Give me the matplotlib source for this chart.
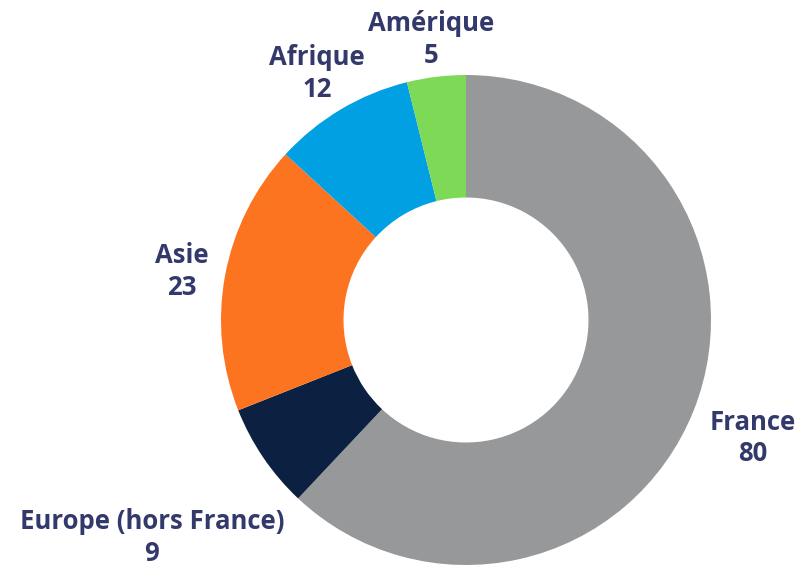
import matplotlib
matplotlib.use("Agg")
import matplotlib.pyplot as plt
import numpy as np

categories = ["France", "Europe (hors France)", "Asie", "Afrique", "Amérique"]
values = [80, 9, 23, 12, 5]
colors = ["#97989a", "#0c2142", "#fd7420", "#00a0e3", "#7ed957"]
label_dist = [1.26, 1.55, 1.18, 1.19, 1.17]

W, H = 806, 566
cx, cy, R = 466, 320, 245
fig = plt.figure(figsize=(W / 100, H / 100), dpi=100)
ax = fig.add_axes([(cx - R) / W, (H - cy - R) / H, 2 * R / W, 2 * R / H])
wedges, _ = ax.pie(values, colors=colors, startangle=90, counterclock=False,
                   radius=1, wedgeprops=dict(width=0.5, linewidth=0))
ax.set_xlim(-1, 1)
ax.set_ylim(-1, 1)
ax.set_aspect("equal")
ax.axis("off")

for w, cat, v, d in zip(wedges, categories, values, label_dist):
    ang = np.deg2rad((w.theta1 + w.theta2) / 2)
    x, y = d * np.cos(ang), d * np.sin(ang)
    ax.annotate(f"{cat}\n{v}", xy=(x, y), xytext=(0, -3),
                textcoords="offset points", ha="center", va="center",
                fontsize=18.5, fontweight="bold", family="Open Sans",
                color="#333a6b", linespacing=1.22, annotation_clip=False)

fig.savefig("out.png", dpi=100)
